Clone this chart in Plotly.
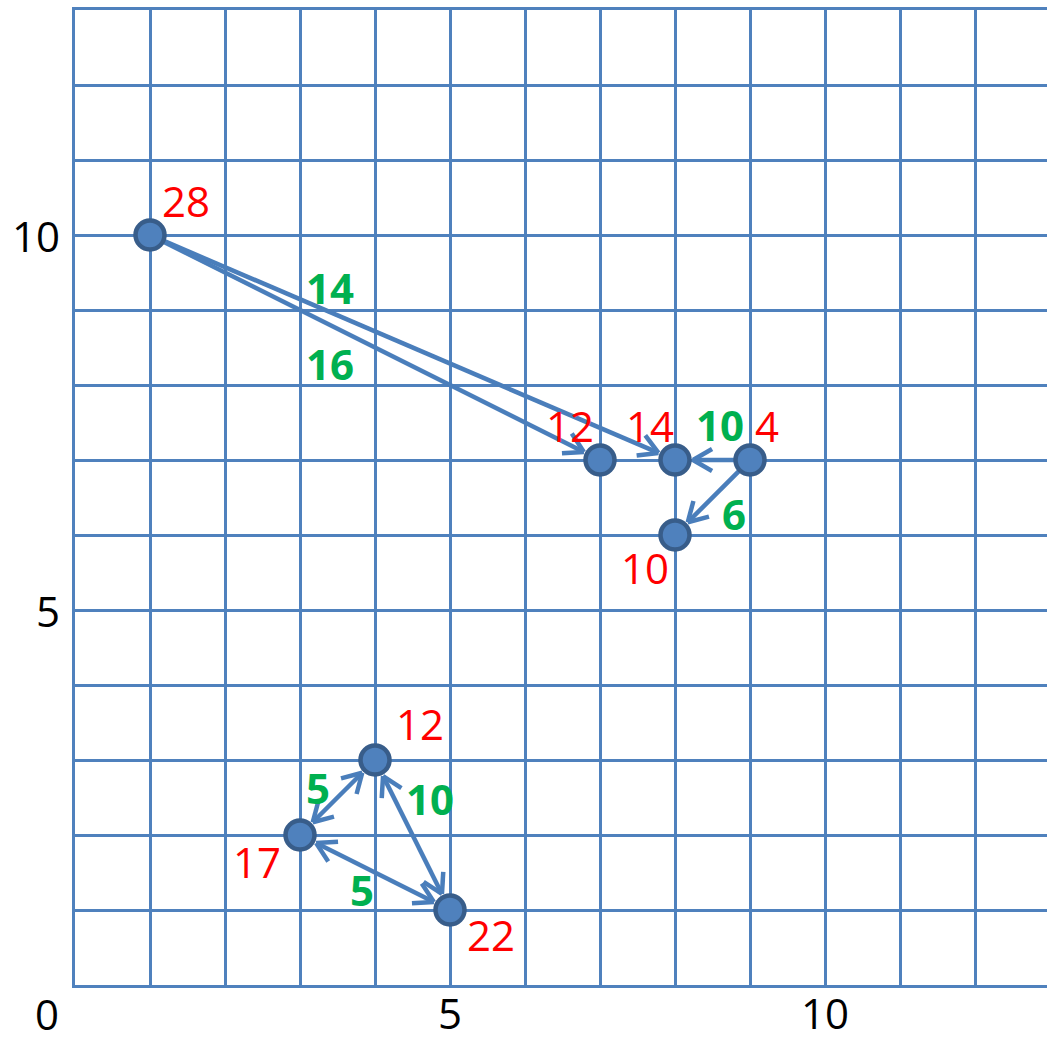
import math
import plotly.graph_objects as go

# ---------------- data ----------------
node_x = [1, 7, 8, 9, 8, 4, 3, 5]
node_y = [10, 7, 7, 7, 6, 3, 2, 1]
node_values = [28, 12, 14, 4, 10, 12, 17, 22]

edge_from = [0, 0, 3, 3, 6, 5, 6]
edge_to = [2, 1, 2, 4, 5, 7, 7]
edge_weights = [14, 16, 10, 6, 5, 10, 5]
edge_both_ways = [False, False, False, False, True, True, True]

x_tick_values = [5, 10]
y_tick_values = [5, 10]
origin_label = "0"

# ---------------- layout / style ----------------
W, H = 1047, 1043
ML, MR, MT, MB = 75, 0, 10, 58
X_MAX = 12.96
Y_MAX = 13.0
PX = (W - ML - MR) / X_MAX  # pixels per data unit (same for both axes)

BLUE = "#4f81bd"
LINE_BLUE = "#4a7ebb"
DARK_BLUE = "#385d8a"
RED = "#ff0000"
GREEN = "#00b050"
FONT = "Open Sans"
FS = 42

# label offsets in pixels (dx right, dy up)
node_label_offsets = [(36, 35), (-30, 35), (-25, 35), (17, 35), (-30, -32),
                      (45, 37), (-43, -26), (41, -24)]
edge_label_offsets = [(-82.5, 60.5), (-45, -15.5), (7.5, 36), (21.5, -15.5),
                      (-19.5, 10.5), (17.5, 37), (-13, -16.5)]

TIP_GAP = 18 / PX      # arrow tip distance from node centre
LEG_LEN = 22 / PX      # arrowhead leg length
LEG_ANG = math.radians(30)

fig = go.Figure()

# edges (lines + open arrowheads)
lx, ly = [], []
hx, hy = [], []


def head(tx, ty, ux, uy):
    # tip at (tx,ty); (ux,uy) unit vector pointing from tip back along line
    for s in (1, -1):
        c, sn = math.cos(s * LEG_ANG), math.sin(s * LEG_ANG)
        vx = ux * c - uy * sn
        vy = ux * sn + uy * c
        hx.extend([tx + vx * LEG_LEN, tx, None])
        hy.extend([ty + vy * LEG_LEN, ty, None])


for a, b, both in zip(edge_from, edge_to, edge_both_ways):
    x0, y0, x1, y1 = node_x[a], node_y[a], node_x[b], node_y[b]
    d = math.hypot(x1 - x0, y1 - y0)
    ux, uy = (x1 - x0) / d, (y1 - y0) / d
    tx1, ty1 = x1 - ux * TIP_GAP, y1 - uy * TIP_GAP
    if both:
        sx, sy = x0 + ux * TIP_GAP, y0 + uy * TIP_GAP
        head(sx, sy, ux, uy)
    else:
        sx, sy = x0 + ux * 10 / PX, y0 + uy * 10 / PX
    lx.extend([sx, tx1, None])
    ly.extend([sy, ty1, None])
    head(tx1, ty1, -ux, -uy)

fig.add_trace(go.Scatter(x=lx, y=ly, mode="lines",
                         line=dict(color=LINE_BLUE, width=4.5),
                         hoverinfo="skip", showlegend=False))
fig.add_trace(go.Scatter(x=hx, y=hy, mode="lines",
                         line=dict(color=LINE_BLUE, width=4.5),
                         hoverinfo="skip", showlegend=False))

# nodes
fig.add_trace(go.Scatter(x=node_x, y=node_y, mode="markers",
                         marker=dict(size=29, color=BLUE,
                                     line=dict(color=DARK_BLUE, width=4.5)),
                         text=[str(v) for v in node_values],
                         hoverinfo="text", showlegend=False))

annotations = []
for x, y, v, (dx, dy) in zip(node_x, node_y, node_values, node_label_offsets):
    annotations.append(dict(x=x, y=y, xref="x", yref="y", text=str(v),
                            showarrow=False, xshift=dx, yshift=dy,
                            font=dict(family=FONT, size=FS, color=RED)))

for a, b, w, (dx, dy) in zip(edge_from, edge_to, edge_weights, edge_label_offsets):
    mx = (node_x[a] + node_x[b]) / 2
    my = (node_y[a] + node_y[b]) / 2
    annotations.append(dict(x=mx, y=my, xref="x", yref="y", text=f"<b>{w}</b>",
                            showarrow=False, xshift=dx, yshift=dy,
                            font=dict(family=FONT, size=FS, color=GREEN)))

for t in x_tick_values:
    annotations.append(dict(x=t, y=0, xref="x", yref="y", text=str(t),
                            showarrow=False, yshift=-27,
                            font=dict(family=FONT, size=FS, color="black")))
for t in y_tick_values:
    annotations.append(dict(x=0, y=t, xref="x", yref="y", text=str(t),
                            showarrow=False, xanchor="right", xshift=-13,
                            font=dict(family=FONT, size=FS, color="black")))
annotations.append(dict(x=0, y=0, xref="x", yref="y", text=origin_label,
                        showarrow=False, xshift=-28, yshift=-28,
                        font=dict(family=FONT, size=FS, color="black")))

fig.update_layout(
    width=W, height=H,
    margin=dict(l=ML, r=MR, t=MT, b=MB, pad=0),
    paper_bgcolor="white", plot_bgcolor="white",
    annotations=annotations,
    xaxis=dict(range=[0, X_MAX], dtick=1, tick0=0, showgrid=True,
               gridcolor=BLUE, gridwidth=3, zeroline=False,
               showline=True, linecolor=BLUE, linewidth=3, mirror=True,
               showticklabels=False, ticks="", fixedrange=True),
    yaxis=dict(range=[0, Y_MAX], dtick=1, tick0=0, showgrid=True,
               gridcolor=BLUE, gridwidth=3, zeroline=False,
               showline=True, linecolor=BLUE, linewidth=3, mirror=False,
               showticklabels=False, ticks="", fixedrange=True),
)

fig.write_html(
    "out.html",
    config={"displayModeBar": False},
    post_script="document.body.style.margin='0px';document.body.style.overflow='hidden';",
)
